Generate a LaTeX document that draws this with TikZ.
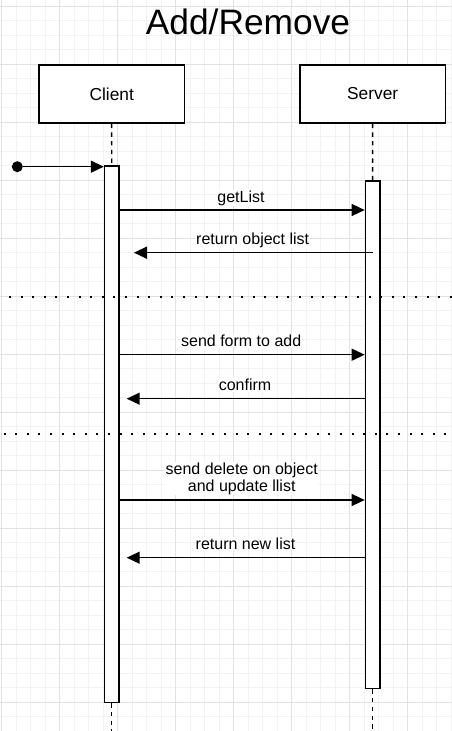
\documentclass[tikz,border=0pt]{standalone}
\usepackage{fontspec}
\setmainfont{Liberation Sans}
\usetikzlibrary{arrows.meta}
\begin{document}
\begin{tikzpicture}[x=0.75pt,y=-0.75pt,
  minorgrid/.style={draw={rgb,255:red,242;green,242;blue,242},line width=0.75pt},
  majorgrid/.style={draw={rgb,255:red,226;green,226;blue,226},line width=0.75pt},
  lifebox/.style={draw=black,fill=white,line width=1.09pt,minimum width=109pt,minimum height=43.5pt,inner sep=0pt,font=\fontsize{13}{15}\selectfont},
  actbox/.style={draw=black,fill=white,line width=1.09pt,minimum width=10.9pt,inner sep=0pt},
  lifeline/.style={draw=black,line width=1.09pt,dash pattern=on 3.26pt off 3.26pt},
  divider/.style={draw=black,line width=1.5pt,dash pattern=on 1.5pt off 7.2pt},
  msg/.style={draw=black,line width=1.09pt,-{Triangle[length=9.75pt,width=9pt]}},
  lbl/.style={font=\fontsize{12}{12.75}\selectfont,fill=white,inner sep=0.5pt,anchor=base},
]
\useasboundingbox (0,0) rectangle (452,731);
\fill[white] (0,0) rectangle (452,731);
% grid
\foreach \k in {0,...,31} {\draw[minorgrid] ({1.8+14.5*\k},0) -- ({1.8+14.5*\k},731);}
\foreach \k in {0,...,50} {\draw[minorgrid] (0,{6.3+14.5*\k}) -- (452,{6.3+14.5*\k});}
\foreach \k in {0,4,...,28} {\draw[majorgrid] ({1.8+14.5*\k},0) -- ({1.8+14.5*\k},731);}
\foreach \k in {0,4,...,48} {\draw[majorgrid] (0,{6.3+14.5*\k}) -- (452,{6.3+14.5*\k});}

% title
\node[font=\fontsize{26.5}{30}\selectfont,anchor=base,inner sep=0pt] (title) at (248,35) {Add/Remove};

% lifeline heads
\node[lifebox] (client) at (111.7,94) {Client};
\node[lifebox] (server) at (372.7,94) {Server};

% activations
\node[actbox,minimum height=402.5pt] (ca) at (111.75,434.35) {};
\node[actbox,minimum height=380.8pt] (sa) at (372.65,434.85) {};

\coordinate (cend) at (111.75,731);
\coordinate (send) at (372.65,731);
\draw[lifeline] (client.south) -- (ca.north);
\draw[lifeline] (ca.south) -- (cend);
\draw[lifeline] (server.south) -- (sa.north);
\draw[lifeline] (sa.south) -- (send);

% dividers
\coordinate (d1a) at (9,296.7);
\coordinate (d1b) at (452,296.7);
\coordinate (d2a) at (3.5,434.3);
\coordinate (d2b) at (452,434.3);
\draw[divider] (d1a) -- (d1b);
\draw[divider] (d2a) -- (d2b);

% initial message
\node[circle,fill=black,minimum size=8.25pt,inner sep=0pt] (start) at (17.3,166.7) {};
\draw[msg] (start) -- (ca.west |- start);

% messages
\coordinate (m1) at (0,210);
\draw[msg] (ca.east |- m1) -- (sa.west |- m1);
\node[lbl] (l1) at (241,202) {getList};

\coordinate (m2) at (134,252.7);
\draw[msg] (sa.center |- m2) -- (m2);
\node[lbl] (l2) at (252.7,244.5) {return object list};

\coordinate (m3) at (0,354.7);
\draw[msg] (ca.east |- m3) -- (sa.west |- m3);
\node[lbl] (l3) at (241.2,346.7) {send form to add};

\coordinate (m4) at (126.7,398.7);
\draw[msg] (sa.west |- m4) -- (m4);
\node[lbl] (l4) at (245,390.7) {confirm};

\coordinate (m5) at (0,500);
\draw[msg] (ca.east |- m5) -- (sa.west |- m5);
\node[lbl,anchor=center,align=center] (l5) at (241.7,478.4) {send delete on object\\and update llist};

\coordinate (m6) at (126.7,557.7);
\draw[msg] (sa.west |- m6) -- (m6);
\node[lbl] (l6) at (245.5,549.3) {return new list};
\end{tikzpicture}
\end{document}
